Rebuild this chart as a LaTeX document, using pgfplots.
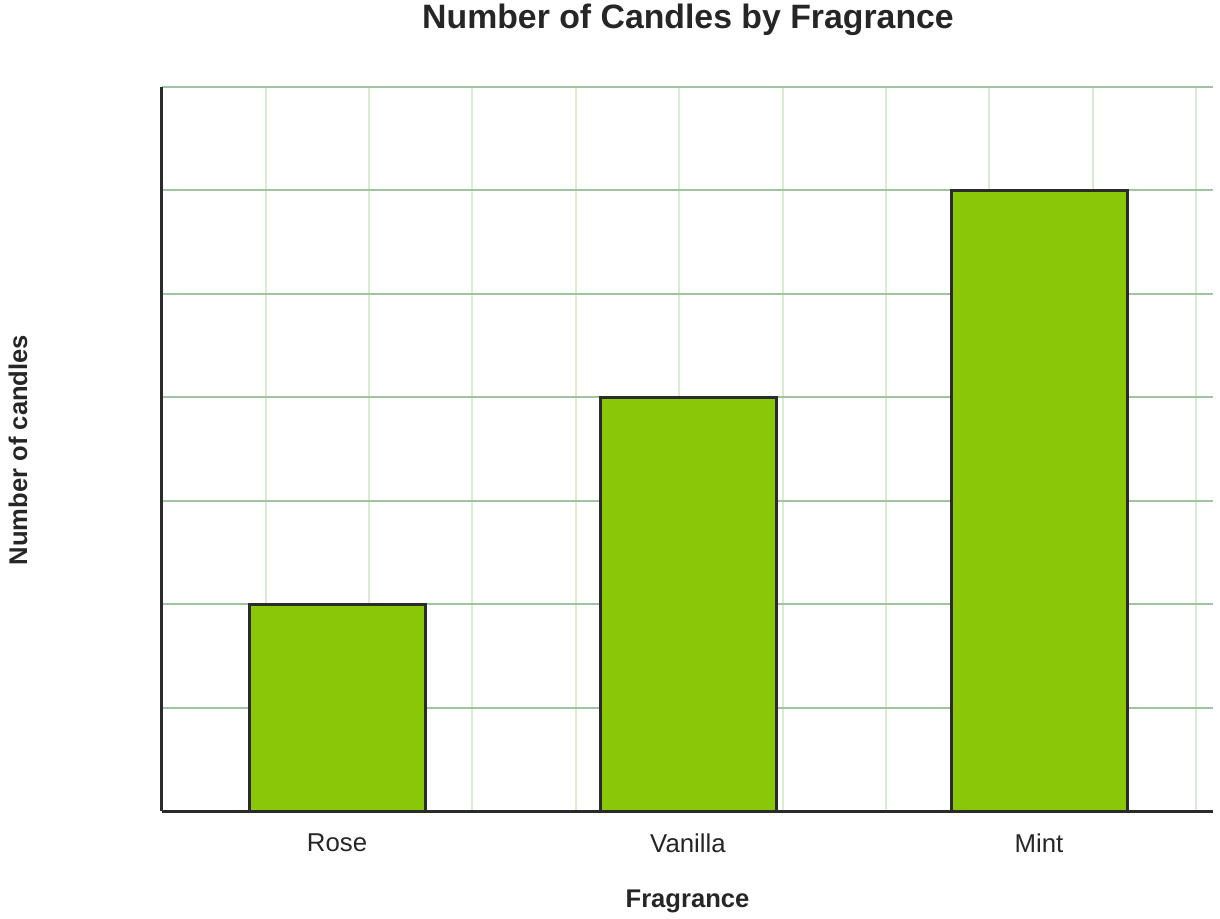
\documentclass[border=0pt]{standalone}
\usepackage{pgfplots}
\pgfplotsset{compat=1.18}
\usepackage{fontspec}
\setmainfont{Liberation Sans}
\definecolor{barfill}{HTML}{8AC807}
\definecolor{barline}{HTML}{2B2B2B}
\definecolor{hgrid}{HTML}{9FC49F}
\definecolor{vgrid}{HTML}{D9EBD0}
\definecolor{txt}{HTML}{262626}
\begin{document}
\begin{tikzpicture}[x=0.5pt,y=0.5pt]
\useasboundingbox (0,0) rectangle (1220,918);
\begin{axis}[
  at={(81pt,53.5pt)}, anchor=origin,
  scale only axis,
  width=525.5pt, height=362pt,
  xmin=0, xmax=1051, ymin=0, ymax=7,
  axis x line=bottom, axis y line=left,
  axis line style={-, line width=1.5pt, color=barline},
  xtick={175,526,877},
  xticklabels={Rose,Vanilla,Mint},
  minor xtick={104,207,310,414,517,621,724,827,931,1034},
  ytick={1,2,3,4,5,6,7},
  yticklabels={},
  major tick length=0pt, minor tick length=0pt,
  ymajorgrids=true, xminorgrids=true,
  major grid style={line width=1pt, color=hgrid},
  minor grid style={line width=1pt, color=vgrid},
  tick label style={font=\fontsize{12.9}{15}\selectfont, color=txt},
  xticklabel style={anchor=center, yshift=-16pt},
  xlabel={\bfseries Fragrance},
  xlabel style={at={(rel axis cs:0.5,-0.1255)}, anchor=center, font=\fontsize{12.8}{15}\selectfont, color=txt},
  ylabel={\bfseries Number of candles},
  ylabel style={at={(rel axis cs:-0.137,0.4986)}, anchor=center, rotate=0, font=\fontsize{12.8}{15}\selectfont, color=txt},
  clip=false,
]
\addplot[ybar, bar width=176, fill=barfill, draw=barline, line width=1.5pt]
  coordinates {(175,2) (526,4) (877,6)};
\end{axis}
\node[anchor=center, font=\fontsize{16.9}{20}\selectfont\bfseries, text=txt] at (688,898) {Number of Candles by Fragrance};
\end{tikzpicture}
\end{document}
